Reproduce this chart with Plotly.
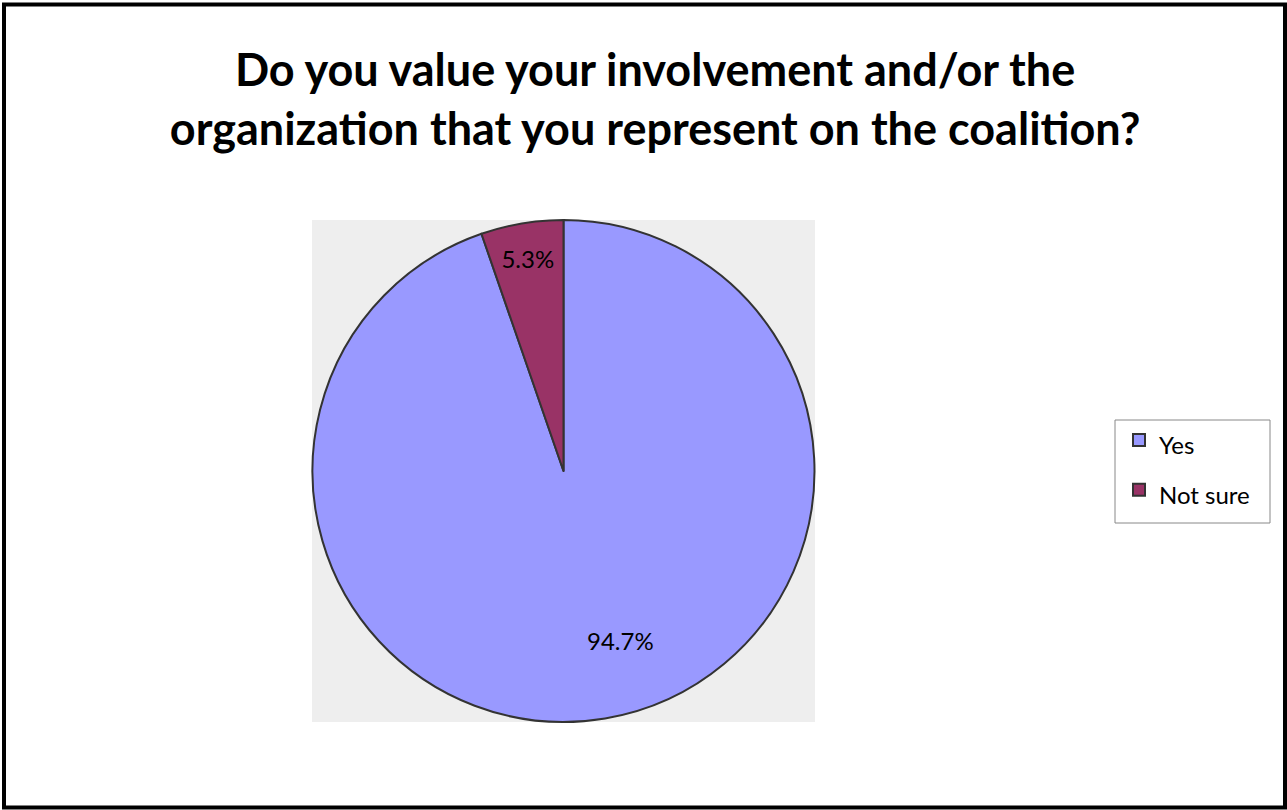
import plotly.graph_objects as go

W, H = 1287, 810

# Survey responses
labels = ["Yes", "Not sure"]
shares = [94.7, 5.3]
colors = ["#9999FF", "#993366"]

title = "Do you value your involvement and/or the<br>organization that you represent on the coalition?"

FONT = "Lato, Open Sans, sans-serif"

def px_x(x):
    return x / W

def px_y(y):
    return 1 - y / H

# pie occupies a square area on the left-centre
pie_left, pie_right, pie_top, pie_bottom = 312, 815, 220, 722
# legend frame
leg_left, leg_right, leg_top, leg_bottom = 1115, 1270, 420, 523

# legend labels are rendered smaller than the legend row font so the rows get taller
legend_labels = ['<span style="font-size:24px">%s</span>' % s for s in labels]

fig = go.Figure()
fig.add_trace(go.Pie(
    labels=legend_labels,
    values=shares,
    sort=False,
    direction="clockwise",
    rotation=0,
    marker=dict(colors=colors, line=dict(color="#333333", width=2)),
    # the large slice's label is placed separately below
    texttemplate=["", "%{value:.1f}%"],
    textposition="inside",
    insidetextorientation="horizontal",
    textfont=dict(family=FONT, size=24, color="#000000"),
    domain=dict(x=[px_x(pie_left), px_x(pie_right)], y=[px_y(pie_bottom), px_y(pie_top)]),
    hoverinfo="percent",
))

fig.add_annotation(
    x=px_x(620), y=px_y(657), xref="paper", yref="paper",
    text="%.1f%%" % shares[0], showarrow=False,
    font=dict(family=FONT, size=24, color="#000000"),
)

fig.update_layout(
    width=W, height=H,
    margin=dict(l=0, r=0, t=0, b=0),
    paper_bgcolor="white",
    plot_bgcolor="white",
    font=dict(family=FONT, color="#000000"),
    title=dict(
        text="<b>" + title + "</b>",
        x=0.509, xanchor="center",
        y=px_y(86), yanchor="middle",
        font=dict(size=45, family=FONT, color="#000000"),
    ),
    legend=dict(
        x=px_x(1119), y=px_y(410), xanchor="left", yanchor="top",
        bgcolor="rgba(0,0,0,0)", borderwidth=0,
        font=dict(size=36, family=FONT, color="#000000"),
        itemwidth=30,
    ),
    shapes=[
        # grey backdrop behind the pie
        dict(type="rect", xref="paper", yref="paper", layer="below",
             x0=px_x(pie_left), x1=px_x(pie_right), y0=px_y(pie_bottom), y1=px_y(pie_top),
             fillcolor="#EEEEEE", line=dict(width=0)),
        # legend frame
        dict(type="rect", xref="paper", yref="paper", layer="below",
             x0=px_x(leg_left), x1=px_x(leg_right), y0=px_y(leg_bottom), y1=px_y(leg_top),
             fillcolor="white", line=dict(color="#888888", width=1)),
        # outer frame
        dict(type="rect", xref="paper", yref="paper",
             x0=px_x(4), x1=px_x(1285), y0=px_y(807.5), y1=px_y(4.5),
             line=dict(color="#000000", width=4)),
    ],
)

fig.write_html("out.html")
